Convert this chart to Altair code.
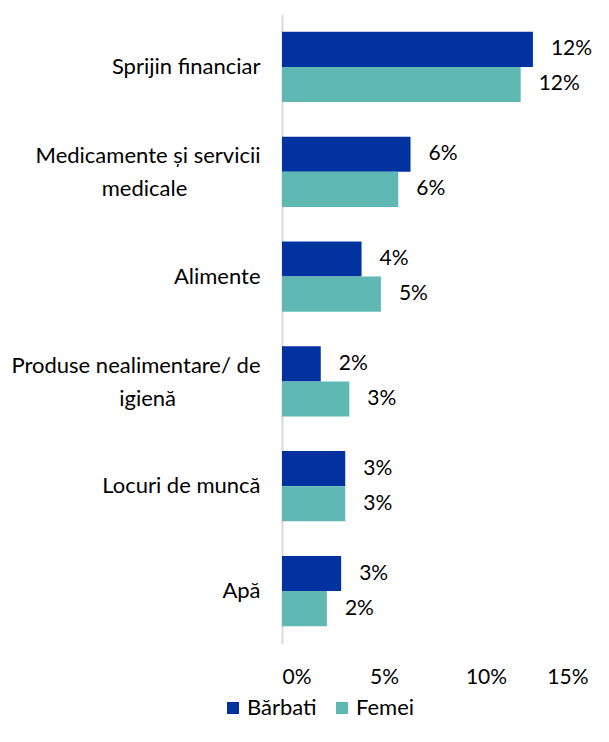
import altair as alt
import pandas as pd
import json

categories = ["Sprijin financiar", "Medicamente și servicii medicale", "Alimente",
              "Produse nealimentare/ de igienă", "Locuri de muncă", "Apă"]
NB = "\u00a0"
ZW = "\u200b"
label_lines = [["Sprijin financiar"], ["Medicamente și servicii", "medicale" + NB * 13 + ZW], ["Alimente"],
               ["Produse nealimentare/ de", "igienă" + NB * 15 + ZW], ["Locuri de muncă"], ["Apă"]]
series = ["Bărbati", "Femei"]
barbati = [12.3, 6.3, 3.9, 1.9, 3.1, 2.9]
femei = [11.7, 5.7, 4.85, 3.3, 3.1, 2.2]
labels_b = ["12%", "6%", "4%", "2%", "3%", "3%"]
labels_f = ["12%", "6%", "5%", "3%", "3%", "2%"]
colors = ["#0033A0", "#5FB8B4"]
x_ticks = [0, 5, 10, 15]

rows = []
for i, c in enumerate(categories):
    rows.append({"cat": c, "series": series[0], "value": barbati[i], "label": labels_b[i]})
    rows.append({"cat": c, "series": series[1], "value": femei[i], "label": labels_f[i]})
df = pd.DataFrame(rows)

font = "Lato"
FS = 21
expr_parts = []
multi = []
for c, l in zip(categories, label_lines):
    if len(l) > 1:
        expr_parts.append(f"datum.value == {json.dumps(c)} ? {json.dumps(l)}")
        multi.append(json.dumps(c))
label_expr = " : ".join(expr_parts) + " : datum.value"
multi_test = " || ".join(f"datum.value == {m}" for m in multi)

y_enc = alt.Y("cat:N", sort=categories, title=None,
              scale=alt.Scale(paddingInner=0.33, paddingOuter=0.17),
              axis=alt.Axis(labelExpr=label_expr, labelFontSize=22, labelFont=font,
                            labelColor="#000000", labelPadding=22, ticks=False,
                            domainColor="#d9d9d9", domainWidth=2, labelLimit=300,
                            labelLineHeight=33,
                            labelOffset={"condition": {"test": multi_test, "value": -15.5},
                                         "value": 0}))
yoff = alt.YOffset("series:N", sort=series)

base = alt.Chart(df)
bars = base.mark_bar().encode(
    x=alt.X("value:Q", scale=alt.Scale(domain=[0, 15], nice=False), title=None,
            axis=alt.Axis(values=x_ticks, labelExpr="datum.value + '%'", grid=False,
                          domain=False, ticks=False, labelFontSize=FS, labelFont=font,
                          labelColor="#000000", labelPadding=22)),
    y=y_enc,
    yOffset=yoff,
    color=alt.Color("series:N", sort=series,
                    scale=alt.Scale(domain=series, range=colors),
                    legend=alt.Legend(orient="none", legendX=-60, legendY=683,
                                      title=None, labelFontSize=22,
                                      labelFont=font, labelColor="#000000",
                                      symbolType="square", symbolSize=144,
                                      symbolStrokeWidth=0, columnPadding=14,
                                      labelOffset=3, direction="horizontal")),
)
text = base.mark_text(align="left", baseline="middle", dx=18, fontSize=FS,
                      font=font, color="#000000").encode(
    x="value:Q", y=alt.Y("cat:N", sort=categories), yOffset=yoff, text="label:N")

chart = alt.layer(bars, text).properties(
    width=306, height=630,
    autosize=alt.AutoSizeParams(type="none"),
    padding={"left": 274, "top": 6, "right": 13, "bottom": 90},
).configure_view(stroke=None)

chart.save("out.html", embed_options={"renderer": "svg", "actions": False})
